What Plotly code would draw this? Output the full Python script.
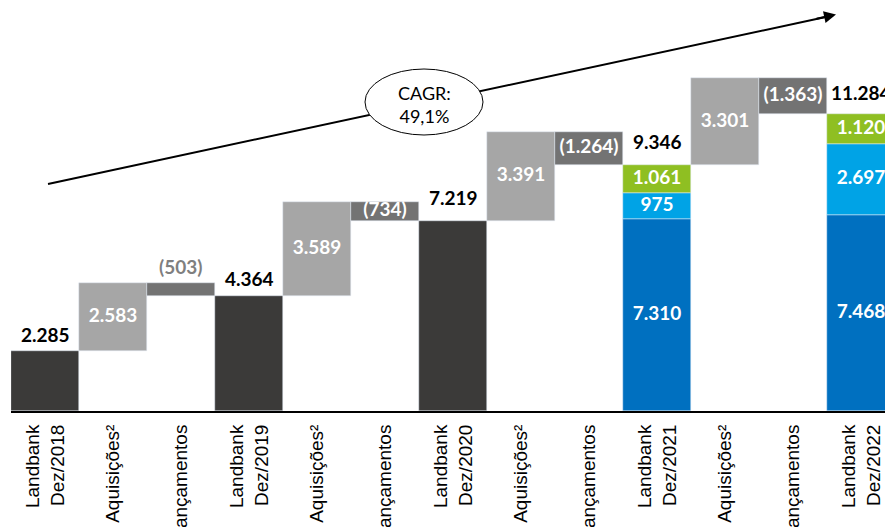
import plotly.graph_objects as go

# ---------------- data ----------------
tick_labels = ["Landbank<br>Dez/2018", "Aquisições²", "Lançamentos",
               "Landbank<br>Dez/2019", "Aquisições²", "Lançamentos",
               "Landbank<br>Dez/2020", "Aquisições²", "Lançamentos",
               "Landbank<br>Dez/2021", "Aquisições²", "Lançamentos",
               "Landbank<br>Dez/2022"]
kinds = ["total", "add", "sub", "total", "add", "sub", "total", "add", "sub",
         "stack", "add", "sub", "stack"]
totals_simple = [2285, None, None, 4364, None, None, 7219, None, None, None, None, None, None]
aquisicoes = [2583, 3589, 3391, 3301]
lancamentos = [503, 734, 1264, 1363]
stack_dark_blue = [7310, 7468]
stack_light_blue = [975, 2697]
stack_green = [1061, 1120]
stack_totals = [9346, 11284]
cagr_text = "CAGR:<br>49,1%"

C_TOTAL = "#3b3a39"
C_ADD = "#a6a6a6"
C_SUB = "#737373"
C_DBLUE = "#0070c0"
C_LBLUE = "#00a3e6"
C_GREEN = "#8fbf22"

def fmt(v):
    return f"{v:,}".replace(",", ".")

# ---------------- build waterfall geometry from data ----------------
tot_x, tot_y = [], []
add_x, add_base, add_y = [], [], []
sub_x, sub_base, sub_y = [], [], []
stk_x = []
level = 0
ai = si = ki = 0
for i, k in enumerate(kinds):
    if k == "total":
        tot_x.append(i); tot_y.append(totals_simple[i]); level = totals_simple[i]
    elif k == "add":
        add_x.append(i); add_base.append(level); add_y.append(aquisicoes[ai])
        level += aquisicoes[ai]; ai += 1
    elif k == "sub":
        level -= lancamentos[si]
        sub_x.append(i); sub_base.append(level); sub_y.append(lancamentos[si]); si += 1
    else:
        stk_x.append(i); level = stack_totals[ki]; ki += 1

fig = go.Figure()
fig.add_bar(x=tot_x, y=tot_y, base=[0]*len(tot_x), marker_color=C_TOTAL, width=1)
fig.add_bar(x=add_x, y=add_y, base=add_base, marker_color=C_ADD, width=1)
fig.add_bar(x=sub_x, y=sub_y, base=sub_base, marker_color=C_SUB, width=1)
b1 = [0]*len(stk_x)
b2 = [a for a in stack_dark_blue]
b3 = [a + b for a, b in zip(stack_dark_blue, stack_light_blue)]
fig.add_bar(x=stk_x, y=stack_dark_blue, base=b1, marker_color=C_DBLUE, width=1)
fig.add_bar(x=stk_x, y=stack_light_blue, base=b2, marker_color=C_LBLUE, width=1)
fig.add_bar(x=stk_x, y=stack_green, base=b3, marker_color=C_GREEN, width=1)

LBL = dict(family="Lato", size=19)
# inside labels
in_x, in_y, in_t = [], [], []
for x, b, v in zip(add_x, add_base, add_y):
    in_x.append(x); in_y.append(b + v/2); in_t.append(fmt(v))
for x, b, v in zip(sub_x, sub_base, sub_y):
    if v >= 600:
        in_x.append(x); in_y.append(b + v/2); in_t.append(f"({fmt(v)})")
for arrb, arrv in ((b1, stack_dark_blue), (b2, stack_light_blue), (b3, stack_green)):
    for x, b, v in zip(stk_x, arrb, arrv):
        in_x.append(x); in_y.append(b + v/2); in_t.append(fmt(v))
fig.add_scatter(x=in_x, y=in_y, mode="text", text=in_t, textposition="middle center",
                textfont=dict(LBL, color="white", weight="bold"), hoverinfo="skip")

# ---------------- layout ----------------
W, H = 885, 527
L, R, T, B = 11, 0, 0, 116
PX_PER_CAT = 68
PX_PER_UNIT = 0.0263
plot_w = W - L - R
plot_h = H - T - B
xr = [-0.5, -0.5 + plot_w / PX_PER_CAT]
yr = [0, plot_h / PX_PER_UNIT]

def px2x(px):  # pixel -> data x
    return (px - L) / PX_PER_CAT - 0.5

def py2y(py):  # pixel -> data y
    return (H - B - py) / PX_PER_UNIT

annotations = []
# totals above bars
top_x = tot_x + stk_x
top_y = tot_y + stack_totals
top_shift = [3, 4, 10, 10, 8]
for x, v, s in zip(top_x, top_y, top_shift):
    annotations.append(dict(x=x, y=v, text=fmt(v), showarrow=False, yanchor="bottom", yshift=s,
                            font=dict(LBL, color="black", weight="bold")))
# small decrease label above its bar
for x, b, v in zip(sub_x, sub_base, sub_y):
    if v < 600:
        annotations.append(dict(x=x, y=b + v, text=f"({fmt(v)})", showarrow=False,
                                yanchor="bottom", yshift=3,
                                font=dict(LBL, color="#7f7f7f", weight="bold")))

shapes = [
    dict(type="line", xref="x", yref="y", x0=px2x(48), y0=py2y(184), x1=px2x(828), y1=py2y(16.5),
         line=dict(color="black", width=2), layer="above"),
    dict(type="circle", xref="x", yref="y", x0=px2x(365), y0=py2y(135), x1=px2x(483), y1=py2y(69),
         fillcolor="white", line=dict(color="black", width=1), layer="above"),
]
annotations += [
    dict(x=px2x(836), y=py2y(14.5), ax=px2x(815), ay=py2y(19), xref="x", yref="y", axref="x", ayref="y",
         showarrow=True, arrowhead=2, arrowsize=1.2, arrowwidth=2, arrowcolor="black", text=""),
    dict(x=px2x(424), y=py2y(104), xref="x", yref="y", text=cagr_text, showarrow=False,
         font=dict(family="Lato", size=18, color="black")),
]

fig.update_layout(
    width=W, height=H, margin=dict(l=L, r=R, t=T, b=B, pad=0, autoexpand=False),
    barmode="overlay", bargap=0, showlegend=False,
    plot_bgcolor="white", paper_bgcolor="white",
    shapes=shapes, annotations=annotations,
    xaxis=dict(range=xr, tickmode="array", tickvals=list(range(len(tick_labels))),
               ticktext=tick_labels, tickangle=-90, showgrid=False, zeroline=False,
               showline=True, linecolor="black", linewidth=2, ticks="", automargin=False,
               tickfont=dict(family="Liberation Sans", size=19, color="black"),
               ticklabelstandoff=4),
    yaxis=dict(range=yr, visible=False, showgrid=False, zeroline=False, automargin=False),
)
fig.write_html(
    "out.html",
    config={"displayModeBar": False},
    post_script="document.body.style.margin='0';document.body.style.overflow='hidden';",
)
